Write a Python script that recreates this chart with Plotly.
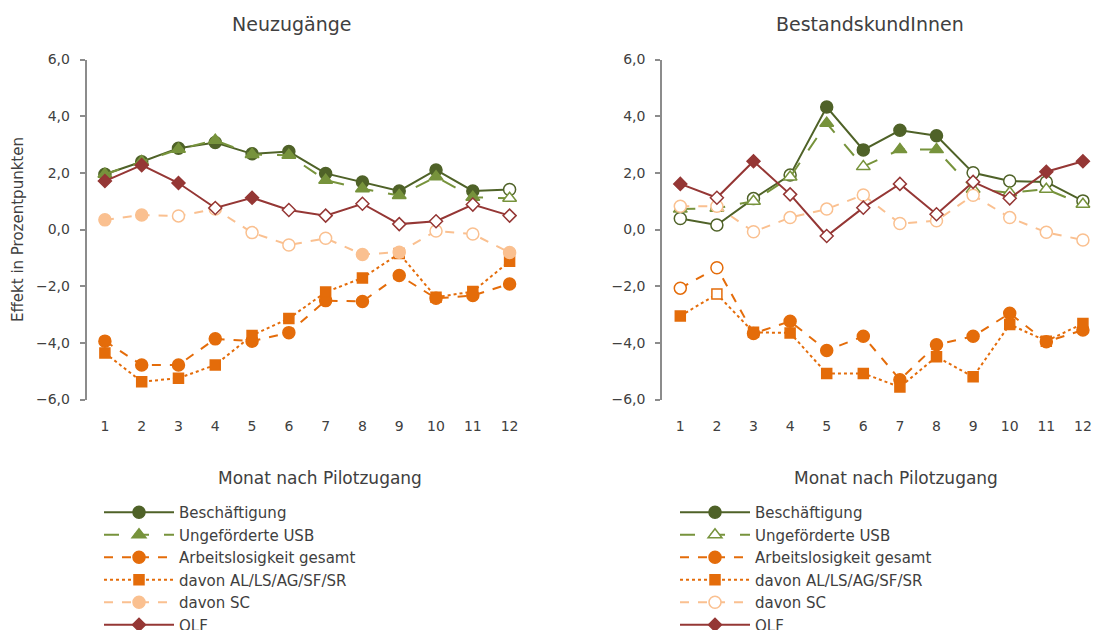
import plotly.graph_objects as go

months = list(range(1, 13))

# Neuzugänge (left panel); sig = 1 -> filled marker, 0 -> hollow marker
neu_besch = [1.95, 2.39, 2.87, 3.07, 2.67, 2.75, 1.98, 1.68, 1.36, 2.10, 1.36, 1.41]
neu_besch_sig = [1, 1, 1, 1, 1, 1, 1, 1, 1, 1, 1, 0]
neu_usb = [1.95, 2.40, 2.83, 3.15, 2.65, 2.62, 1.74, 1.44, 1.20, 1.86, 1.14, 1.10]
neu_usb_sig = [1, 1, 1, 1, 1, 1, 1, 1, 1, 1, 1, 0]
neu_al = [-3.94, -4.78, -4.78, -3.86, -3.94, -3.64, -2.51, -2.54, -1.62, -2.43, -2.33, -1.92]
neu_al_sig = [1, 1, 1, 1, 1, 1, 1, 1, 1, 1, 1, 1]
neu_alls = [-4.36, -5.37, -5.25, -4.78, -3.74, -3.14, -2.21, -1.71, -0.85, -2.39, -2.19, -1.12]
neu_alls_sig = [1, 1, 1, 1, 1, 1, 1, 1, 0, 1, 1, 1]
neu_sc = [0.34, 0.51, 0.48, 0.72, -0.11, -0.55, -0.31, -0.88, -0.80, -0.05, -0.16, -0.81]
neu_sc_sig = [1, 1, 0, 0, 0, 0, 0, 1, 1, 0, 0, 1]
neu_olf = [1.71, 2.27, 1.64, 0.76, 1.12, 0.69, 0.49, 0.91, 0.19, 0.29, 0.88, 0.49]
neu_olf_sig = [1, 1, 1, 0, 1, 0, 0, 0, 0, 0, 0, 0]

# BestandskundInnen (right panel)
be_besch = [0.39, 0.16, 1.09, 1.92, 4.32, 2.81, 3.50, 3.31, 2.00, 1.71, 1.68, 1.01]
be_besch_sig = [0, 0, 0, 0, 1, 1, 1, 1, 0, 0, 0, 0]
be_usb = [0.72, 0.75, 1.00, 1.85, 3.75, 2.22, 2.82, 2.82, 1.42, 1.30, 1.42, 0.89]
be_usb_sig = [1, 1, 0, 0, 1, 0, 1, 1, 0, 0, 0, 0]
be_al = [-2.07, -1.35, -3.67, -3.24, -4.27, -3.77, -5.30, -4.07, -3.77, -2.96, -3.96, -3.55]
be_al_sig = [0, 0, 1, 1, 1, 1, 1, 1, 1, 1, 1, 1]
be_alls = [-3.05, -2.28, -3.63, -3.65, -5.08, -5.08, -5.56, -4.49, -5.20, -3.35, -3.94, -3.32]
be_alls_sig = [1, 0, 1, 1, 1, 1, 1, 1, 1, 1, 1, 1]
be_sc = [0.82, 0.82, -0.08, 0.42, 0.72, 1.22, 0.21, 0.31, 1.21, 0.42, -0.10, -0.37]
be_sc_sig = [0, 0, 0, 0, 0, 0, 0, 0, 0, 0, 0, 0]
be_olf = [1.61, 1.12, 2.41, 1.24, -0.23, 0.77, 1.61, 0.54, 1.68, 1.10, 2.04, 2.41]
be_olf_sig = [1, 0, 1, 0, 0, 0, 0, 0, 0, 0, 1, 1]

names = ["Beschäftigung", "Ungeförderte USB", "Arbeitslosigkeit gesamt",
         "davon AL/LS/AG/SF/SR", "davon SC", "OLF"]
colors = ["#4F6228", "#77933C", "#E46C0A", "#E46C0A", "#FAC090", "#953735"]
dashes = ["solid", "longdash", "dash", "dot", "dash", "solid"]
symbols = ["circle", "triangle-up", "circle", "square", "circle", "diamond"]
sizes = [12, 12, 12, 10, 12, 10]

left = [(neu_besch, neu_besch_sig), (neu_usb, neu_usb_sig), (neu_al, neu_al_sig),
        (neu_alls, neu_alls_sig), (neu_sc, neu_sc_sig), (neu_olf, neu_olf_sig)]
right = [(be_besch, be_besch_sig), (be_usb, be_usb_sig), (be_al, be_al_sig),
         (be_alls, be_alls_sig), (be_sc, be_sc_sig), (be_olf, be_olf_sig)]

# legend markers: right legend shows hollow markers for USB and SC
legend_fill_left = [1, 1, 1, 1, 1, 1]
legend_fill_right = [1, 0, 1, 1, 0, 1]

FONT = "DejaVu Sans"
TXT = "#404040"
AX = "#8c8c8c"
W, H = 1095, 630

fig = go.Figure()


def add_panel(series, xa, ya, legend, legend_fill):
    for i, (vals, sig) in enumerate(series):
        c = colors[i]
        fig.add_trace(go.Scatter(
            x=months, y=vals, xaxis=xa, yaxis=ya, mode="lines+markers",
            line=dict(color=c, width=2, dash=dashes[i]),
            marker=dict(symbol=symbols[i], size=sizes[i],
                        color=[c if s else "white" for s in sig],
                        line=dict(color=c, width=1.5)),
            showlegend=False, hoverinfo="x+y+name", name=names[i],
        ))
    # legend-only entries so the legend marker can differ from the data points
    for i in range(len(series)):
        c = colors[i]
        fig.add_trace(go.Scatter(
            x=[None], y=[None], xaxis=xa, yaxis=ya, mode="lines+markers",
            name=names[i], legend=legend,
            line=dict(color=c, width=2, dash=dashes[i]),
            marker=dict(symbol=symbols[i], size=sizes[i],
                        color=c if legend_fill[i] else "white",
                        line=dict(color=c, width=1.5)),
        ))


add_panel(left, "x", "y", "legend", legend_fill_left)
add_panel(right, "x2", "y2", "legend2", legend_fill_right)

# plot geometry in pixels
y_top, y_bot = 59.5, 399.5
ydom = [1 - y_bot / H, 1 - y_top / H]
zero_pos = ydom[0] + (ydom[1] - ydom[0]) * 0.5
left_dom = [86.5 / W, 528 / W]
right_dom = [662 / W, 1.0]
left_range = [0.5, 12.5]
right_range = [0.5, 12.33]

tick_font = dict(family=FONT, size=14, color=TXT)

label_x = dict(tickmode="array", tickvals=months, ticktext=[str(m) for m in months],
               showline=False, showgrid=False, zeroline=False,
               ticks="outside", ticklen=14, tickcolor="rgba(0,0,0,0)",
               tickfont=tick_font)
line_x = dict(anchor="free", position=zero_pos, showline=True, linecolor=AX,
              linewidth=1.5, ticks="outside", ticklen=6, tickcolor=AX, tickwidth=1.5,
              tickmode="array", tickvals=[m + 0.5 for m in months[:-1]],
              showticklabels=False, showgrid=False, zeroline=False)
y_common = dict(range=[-6, 6], tickmode="array", tickvals=[-6, -4, -2, 0, 2, 4, 6],
                tickformat=".1f", showline=True, linecolor=AX, linewidth=1.5,
                ticks="outside", ticklen=5, tickcolor=AX, tickwidth=1.5,
                showgrid=False, zeroline=False, tickfont=tick_font,
                ticklabelstandoff=7)

legend_style = dict(xanchor="left", yanchor="top", font=dict(family=FONT, size=15, color=TXT),
                    bgcolor="rgba(0,0,0,0)", itemwidth=70)

fig.update_layout(
    width=W, height=H,
    margin=dict(l=0, r=0, t=0, b=0, autoexpand=False),
    paper_bgcolor="white", plot_bgcolor="white",
    separators=",.",
    font=dict(family=FONT, color=TXT, size=15),
    xaxis=dict(domain=left_dom, range=left_range, anchor="y", **label_x),
    yaxis=dict(domain=ydom, anchor="x", **y_common),
    xaxis2=dict(domain=right_dom, range=right_range, anchor="y2", **label_x),
    yaxis2=dict(domain=ydom, anchor="x2", **y_common),
    xaxis3=dict(overlaying="x", range=left_range, **line_x),
    xaxis4=dict(overlaying="x2", range=right_range, **line_x),
    legend=dict(x=99 / W, y=1 - 496 / H, **legend_style),
    legend2=dict(x=675 / W, y=1 - 496 / H, **legend_style),
    showlegend=True,
)

annots = [
    dict(text="Neuzugänge", x=291 / W, y=1 - 24 / H, size=19),
    dict(text="BestandskundInnen", x=870 / W, y=1 - 24 / H, size=19),
    dict(text="Monat nach Pilotzugang", x=320 / W, y=1 - 478 / H, size=17),
    dict(text="Monat nach Pilotzugang", x=896 / W, y=1 - 478 / H, size=17),
]
for a in annots:
    fig.add_annotation(text=a["text"], x=a["x"], y=a["y"], xref="paper", yref="paper",
                       xanchor="center", yanchor="middle", showarrow=False,
                       font=dict(family=FONT, size=a["size"], color=TXT))
fig.add_annotation(text="Effekt in Prozentpunkten", x=18 / W, y=1 - 230 / H,
                   xref="paper", yref="paper", textangle=-90, showarrow=False,
                   xanchor="center", yanchor="middle",
                   font=dict(family=FONT, size=15, color=TXT))

# drop the browser's default page margin so the figure starts at the window corner
fig.write_html("out.html", config={"displayModeBar": False},
               post_script="document.body.style.margin='0px';")
